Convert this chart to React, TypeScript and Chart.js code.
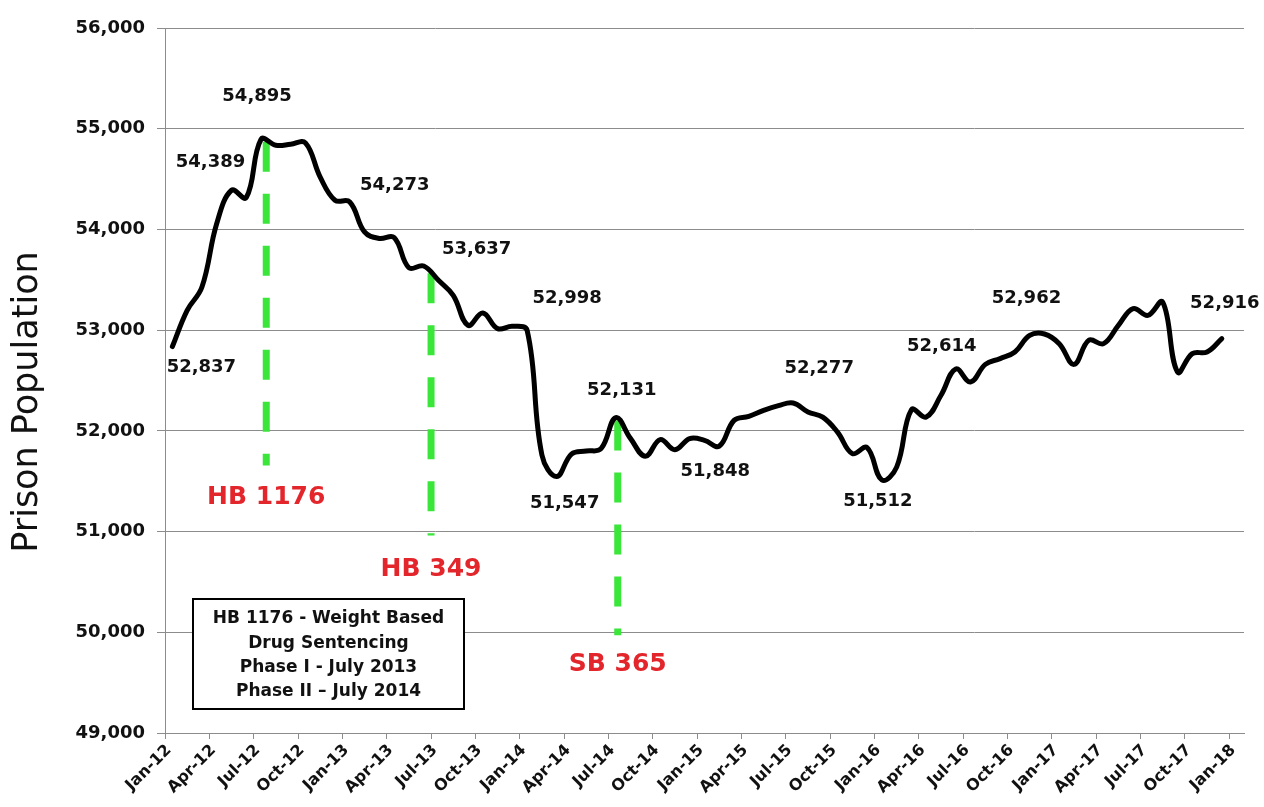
import React, { useEffect, useRef } from "react";
import { Chart, registerables } from "chart.js";

Chart.register(...registerables);

// ---- data ----
const tickLabels = [
  "Jan-12", "Apr-12", "Jul-12", "Oct-12",
  "Jan-13", "Apr-13", "Jul-13", "Oct-13",
  "Jan-14", "Apr-14", "Jul-14", "Oct-14",
  "Jan-15", "Apr-15", "Jul-15", "Oct-15",
  "Jan-16", "Apr-16", "Jul-16", "Oct-16",
  "Jan-17", "Apr-17", "Jul-17", "Oct-17",
  "Jan-18",
];

// monthly prison population, Jan-12 .. Dec-17
const population = [
  52837, 53197, 53428, 54058, 54389, 54316, 54895, 54835, 54845, 54860, 54520, 54290,
  54273, 53975, 53910, 53920, 53620, 53637, 53495, 53346, 53048, 53170, 53015, 53038,
  52998, 51760, 51547, 51770, 51800, 51823, 52131, 51923, 51747, 51913, 51813, 51923,
  51906, 51848, 52104, 52144, 52204, 52250, 52277, 52187, 52137, 51988, 51774, 51833,
  51512, 51640, 52210, 52137, 52353, 52614, 52485, 52660, 52717, 52783, 52948, 52962,
  52866, 52660, 52899, 52866, 53048, 53214, 53147, 53279, 52584, 52767, 52783, 52916,
];

// months whose value is printed on the chart
const labelledMonths = [0, 4, 6, 12, 17, 24, 26, 30, 37, 42, 48, 53, 59, 71];

// legislation markers
const markerNames = ["HB 1176", "HB 349", "SB 365"];
const markerX = [6.85, 18.0, 30.63];
const markerTop = [54870, 53564, 52102];
const markerBottom = [51657, 50962, 49970];

const noteLines = [
  "HB 1176 - Weight Based",
  "Drug Sentencing",
  "Phase I - July 2013",
  "Phase II \u2013 July 2014",
];

const yTitle = "Prison Population";

// ---- styling (pixel offsets of value labels from their points) ----
const labelOffsets: [number, number][] = [
  [29, 21], [-21, -28], [-4, -43], [45, -17], [53, -17], [40, -32], [8, 27],
  [6, -27], [-4, 25], [26, -35], [-4, 21], [-14, -23], [-18, -36], [3, -35],
];
const markerLabelGap = [32, 34, 29];

const FONT = "'DejaVu Sans', 'Liberation Sans', sans-serif";
const GREEN = "#3ae63a";
const RED = "#e3262b";
const GRID = "#8c8c8c";

const overlayPlugin = {
  id: "overlay",
  afterDatasetsDraw(chart: any) {
    const { ctx, chartArea } = chart;
    const xs = chart.scales.x;
    const ys = chart.scales.y;
    ctx.save();

    // value labels
    ctx.font = `bold 18px ${FONT}`;
    ctx.fillStyle = "#111";
    ctx.textAlign = "center";
    ctx.textBaseline = "middle";
    labelledMonths.forEach((m, k) => {
      const v = population[m];
      const px = xs.getPixelForValue(m + 0.5) + labelOffsets[k][0];
      const py = ys.getPixelForValue(v) + labelOffsets[k][1];
      ctx.fillText(v.toLocaleString("en-US"), px, py);
    });

    // marker names
    ctx.font = `bold 25px ${FONT}`;
    ctx.fillStyle = RED;
    markerNames.forEach((name, k) => {
      const px = xs.getPixelForValue(markerX[k]);
      const py = ys.getPixelForValue(markerBottom[k]) + markerLabelGap[k];
      ctx.fillText(name, px, py);
    });

    // note box
    const bx = chartArea.left + 28;
    const by = 599;
    const bw = 271;
    const bh = 110;
    ctx.fillStyle = "#fff";
    ctx.fillRect(bx, by, bw, bh);
    ctx.lineWidth = 2;
    ctx.strokeStyle = "#000";
    ctx.strokeRect(bx, by, bw, bh);
    ctx.fillStyle = "#111";
    ctx.font = `bold 17px ${FONT}`;
    noteLines.forEach((line, k) => {
      ctx.fillText(line, bx + bw / 2, by + 20 + k * 24.3);
    });

    // y-axis title
    ctx.translate(28, 402);
    ctx.rotate(-Math.PI / 2);
    ctx.font = `35px ${FONT}`;
    ctx.fillStyle = "#111";
    ctx.fillText(yTitle, 0, 0);

    ctx.restore();
  },
};

export default function App() {
  const ref = useRef<HTMLCanvasElement>(null);

  useEffect(() => {
    const canvas = ref.current;
    if (!canvas) return;
    Chart.defaults.font.family = FONT;

    const markerSets = markerNames.map((name, k) => ({
      label: name,
      data: [
        { x: markerX[k], y: markerTop[k] },
        { x: markerX[k], y: markerBottom[k] },
      ],
      borderColor: GREEN,
      borderWidth: 7,
      borderDash: [30, 22],
      borderCapStyle: "butt" as const,
      pointRadius: 0,
      tension: 0,
      order: 2,
    }));

    const chart = new Chart(canvas, {
      type: "line",
      data: {
        datasets: [
          {
            label: "Prison Population",
            data: population.map((v, i) => ({ x: i + 0.5, y: v })),
            borderColor: "#000",
            borderWidth: 5,
            pointRadius: 0,
            tension: 0.4,
            borderJoinStyle: "round" as const,
            borderCapStyle: "round" as const,
            order: 1,
          },
          ...markerSets,
        ],
      },
      options: {
        responsive: false,
        animation: false,
        devicePixelRatio: 1,
        layout: { padding: { top: 28, right: 20, left: 0, bottom: 0 } },
        plugins: {
          legend: { display: false },
          tooltip: { enabled: false },
        },
        scales: {
          x: {
            type: "linear",
            min: 0,
            max: 73,
            afterBuildTicks: (scale: any) => {
              scale.ticks = tickLabels.map((_, i) => ({ value: i * 3 }));
            },
            afterFit: (scale: any) => {
              scale.height = 74;
            },
            ticks: {
              autoSkip: false,
              minRotation: 45,
              maxRotation: 45,
              padding: 2,
              labelOffset: 4,
              color: "#111",
              font: { size: 16, weight: "bold" },
              callback: (_v: any, i: number) => tickLabels[i],
            },
            grid: {
              drawOnChartArea: false,
              drawTicks: true,
              tickLength: 6,
              color: GRID,
            },
            border: { color: GRID, width: 1 },
          },
          y: {
            min: 49000,
            max: 56000,
            afterFit: (scale: any) => {
              scale.width = 165;
            },
            ticks: {
              stepSize: 1000,
              padding: 12,
              color: "#111",
              font: { size: 18, weight: "bold" },
              callback: (v: any) => Number(v).toLocaleString("en-US"),
            },
            grid: {
              color: GRID,
              tickLength: 8,
              lineWidth: 1,
            },
            border: { color: GRID, width: 1 },
          },
        },
      },
      plugins: [overlayPlugin],
    });

    return () => chart.destroy();
  }, []);

  return (
    <div
      style={{
        position: "absolute",
        left: 0,
        top: 0,
        width: 1264,
        height: 807,
        background: "#fff",
      }}
    >
      <canvas ref={ref} width={1264} height={807} style={{ display: "block" }} />
    </div>
  );
}
